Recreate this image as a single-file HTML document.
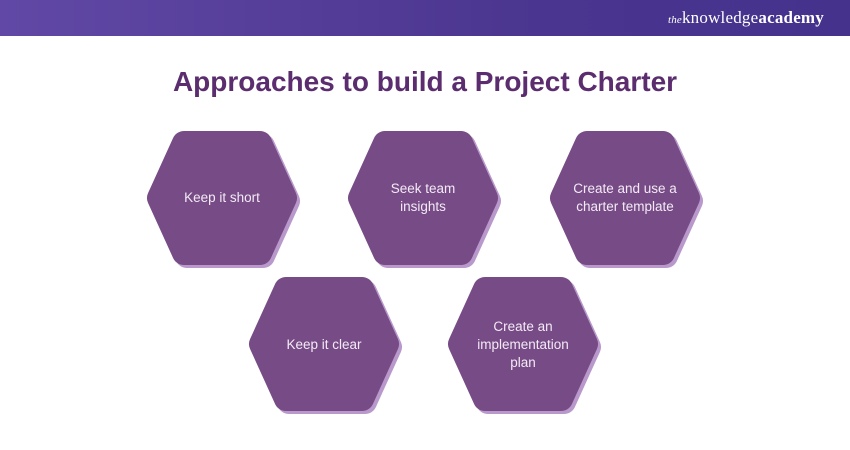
<!DOCTYPE html>
<html><head><meta charset="utf-8"><style>
body{margin:0;width:850px;height:450px;background:#fff;overflow:hidden;font-family:"Liberation Sans",sans-serif;}
.bar{position:absolute;left:0;top:0;width:850px;height:36px;background:linear-gradient(90deg,#6148a6,#4b3690 60%,#44328c);}
.logo{position:absolute;right:26px;top:8px;color:#fff;font-family:"Liberation Serif",serif;font-size:17px;letter-spacing:0.2px}
.logo i{font-size:11px}
h1{position:absolute;top:66px;left:0;width:850px;text-align:center;margin:0;font-size:28px;font-weight:bold;color:#5b2d6f;}
svg{position:absolute;left:0;top:0}
</style></head><body>
<div class="bar"></div>
<div class="logo"><i>the</i>knowledge<b>academy</b></div>
<h1>Approaches to build a Project Charter</h1>
<svg width="850" height="450">
<defs>
<g id="h"><polygon points="-38,-55 38,-55 63,0 38,55 -38,55 -63,0" stroke-width="24" stroke-linejoin="round"/></g>
</defs>
<g font-family="Liberation Sans, sans-serif" font-size="13.5" fill="#f3eaf6" text-anchor="middle">
<g transform="translate(225,201)" fill="#b999cc" stroke="#b999cc"><use href="#h"/></g>
<g transform="translate(222,198)" fill="#774c86" stroke="#774c86"><use href="#h"/></g>
<text x="222" y="202">Keep it short</text>

<g transform="translate(426,201)" fill="#b999cc" stroke="#b999cc"><use href="#h"/></g>
<g transform="translate(423,198)" fill="#774c86" stroke="#774c86"><use href="#h"/></g>
<text x="423" y="193">Seek team</text><text x="423" y="211">insights</text>

<g transform="translate(628,201)" fill="#b999cc" stroke="#b999cc"><use href="#h"/></g>
<g transform="translate(625,198)" fill="#774c86" stroke="#774c86"><use href="#h"/></g>
<text x="625" y="193">Create and use a</text><text x="625" y="211">charter template</text>

<g transform="translate(327,347)" fill="#b999cc" stroke="#b999cc"><use href="#h"/></g>
<g transform="translate(324,344)" fill="#774c86" stroke="#774c86"><use href="#h"/></g>
<text x="324" y="349">Keep it clear</text>

<g transform="translate(526,347)" fill="#b999cc" stroke="#b999cc"><use href="#h"/></g>
<g transform="translate(523,344)" fill="#774c86" stroke="#774c86"><use href="#h"/></g>
<text x="523" y="331">Create an</text><text x="523" y="349">implementation</text><text x="523" y="367">plan</text>
</g>
</svg>
</body></html>
